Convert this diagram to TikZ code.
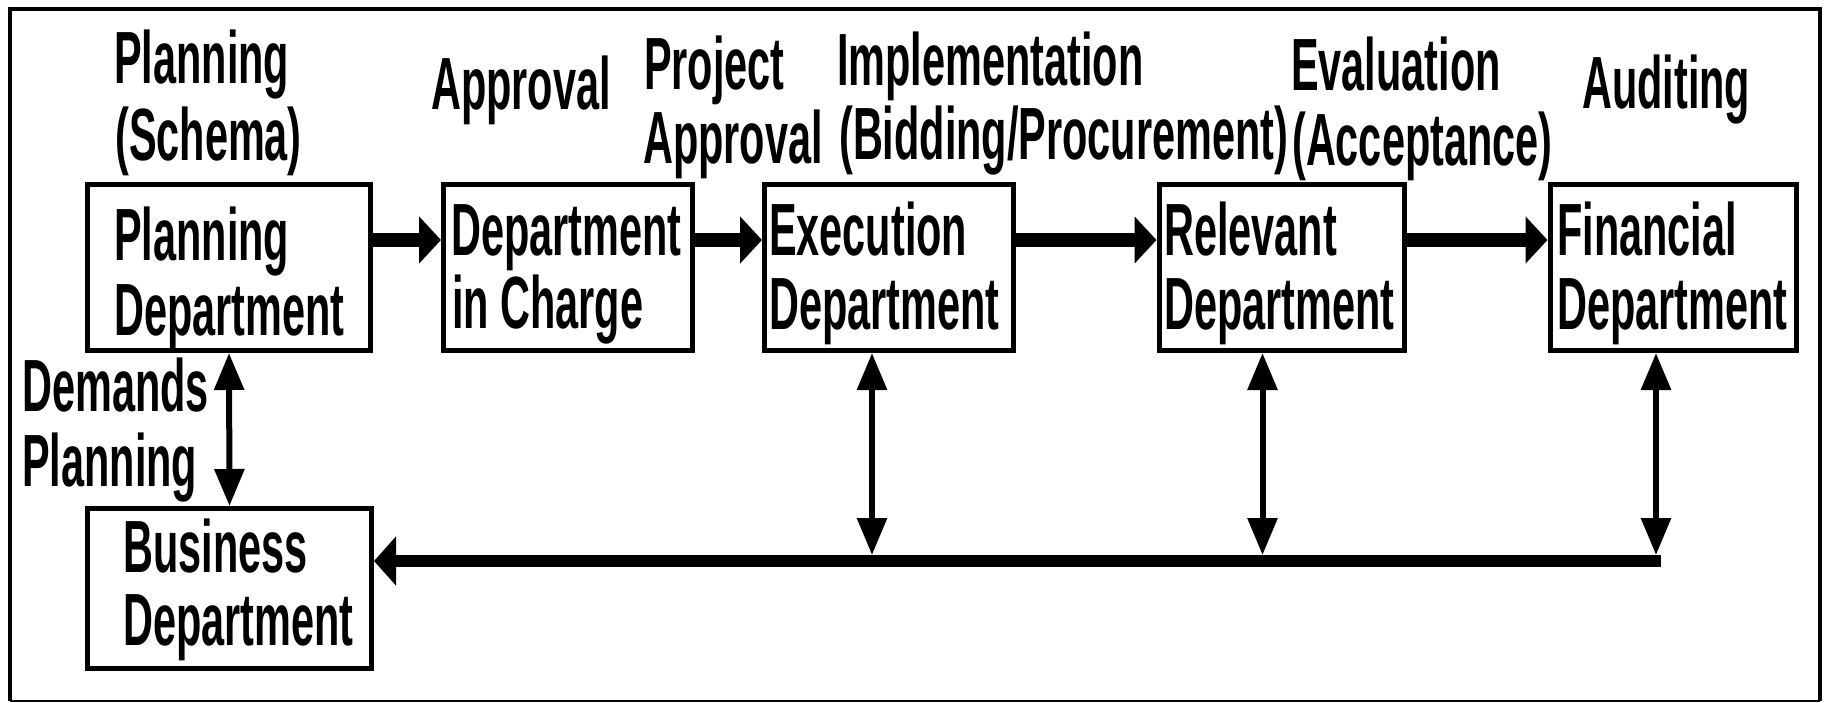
\documentclass[tikz,border=0pt]{standalone}
\usepackage{fontspec}
\newfontfamily\lblfont[FakeStretch=0.56]{Liberation Sans Bold}
\usetikzlibrary{arrows.meta}
\begin{document}
\begin{tikzpicture}[x=1pt,y=-1pt,
  box/.style={draw,line width=5pt,rectangle,inner sep=0pt,minimum height=166pt},
  lbl/.style={anchor=base west,inner sep=0pt,font=\lblfont\fontsize{74}{74}\selectfont},
  harrow/.style={line width=14pt,-{Triangle[length=22pt,width=46pt]}},
  varrow/.style={line width=6pt,{Triangle[length=37pt,width=29pt]}-{Triangle[length=37pt,width=29pt]}},
  busline/.style={line width=12pt,-{Triangle[length=22pt,width=48pt]}},
  framestyle/.style={line width=4pt}]
\useasboundingbox (0,0) rectangle (1826,702);
% outer frame
\draw[framestyle] (9.5,700.5) -- (9.5,9) -- (1820,9) -- (1820,700.5);
\draw[line width=2pt] (9.5,700.5) -- (1820,700.5);

% boxes
\node[box,minimum width=283pt] (pd) at (229,267.5) {};
\node[box,minimum width=248.5pt] (dic) at (567.75,267.5) {};
\node[box,minimum width=249pt] (ex) at (889,267.5) {};
\node[box,minimum width=245.5pt] (rel) at (1281.75,267.5) {};
\node[box,minimum width=246pt] (fin) at (1673,267.5) {};
\node[box,minimum width=284pt,minimum height=160pt] (bd) at (229.5,588.5) {};

% box texts
\node[lbl] (pd1) at (114,260.5) {Planning};
\node[lbl] (pd2) at (114,335) {Department};
\node[lbl] (dic1) at (451,255) {Department};
\node[lbl] (dic2) at (452,328) {in Charge};
\node[lbl] (ex1) at (769,255) {Execution};
\node[lbl] (ex2) at (769,329) {Department};
\node[lbl] (rel1) at (1164,255) {Relevant};
\node[lbl] (rel2) at (1164,329) {Department};
\node[lbl] (fin1) at (1557,255) {Financial};
\node[lbl] (fin2) at (1557,329) {Department};
\node[lbl] (bd1) at (123,572.5) {Business};
\node[lbl] (bd2) at (123,645) {Department};

% stage labels
\node[lbl] (s1a) at (114,83) {Planning};
\node[lbl] (s1b) at (115,160) {(Schema)};
\node[lbl] (s2) at (431,109) {Approval};
\node[lbl] (s3a) at (644,89) {Project};
\node[lbl] (s3b) at (643,163) {Approval};
\node[lbl] (s4a) at (837,85) {Implementation};
\node[lbl] (s4b) at (839,159) {(Bidding/Procurement)};
\node[lbl] (s5a) at (1291,90) {Evaluation};
\node[lbl] (s5b) at (1292,165) {(Acceptance)};
\node[lbl] (s6) at (1582,108) {Auditing};
\node[lbl] (dm1) at (22,411.5) {Demands};
\node[lbl] (dm2) at (22,486.5) {Planning};

% horizontal flow arrows
\draw[harrow] ([yshift=27.5pt]pd.east) -- ([yshift=27.5pt]dic.west);
\draw[harrow] ([yshift=27.5pt]dic.east) -- ([yshift=27.5pt]ex.west);
\draw[harrow] ([yshift=27.5pt]ex.east) -- ([yshift=27.5pt]rel.west);
\draw[harrow] ([yshift=27.5pt]rel.east) -- ([yshift=27.5pt]fin.west);

% feedback bus
\coordinate (bl) at ([yshift=27.5pt]bd.east);
\coordinate (exs) at ([xshift=-17pt]ex.south);
\coordinate (rls) at ([xshift=-19.25pt]rel.south);
\coordinate (fns) at ([xshift=-17pt]fin.south);
\coordinate (exj) at (exs |- bl);
\coordinate (rlj) at (rls |- bl);
\coordinate (fnj) at (fns |- bl);
\coordinate (fnend) at ([xshift=4.5pt]fnj);
\draw[busline] (fnend) -- (bl);

% vertical double arrows
\draw[varrow] (pd.south) -- (bd.north);
\draw[varrow,shorten >=6pt] (exs) -- (exj);
\draw[varrow,shorten >=6pt] (rls) -- (rlj);
\draw[varrow,shorten >=6pt] (fns) -- (fnj);
\end{tikzpicture}
\end{document}
